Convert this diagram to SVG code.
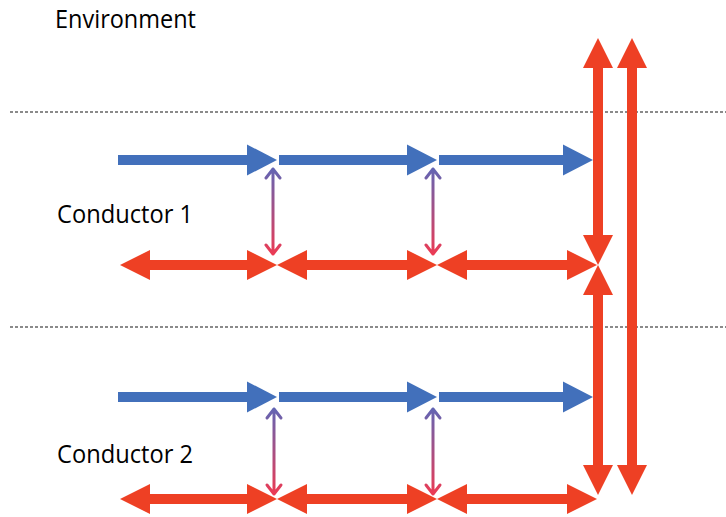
<svg xmlns="http://www.w3.org/2000/svg" width="726" height="517" viewBox="0 0 726 517">
  <style>
    .label { font-family: "Open Sans", "Noto Sans", "Liberation Sans", sans-serif; font-size: 26px; font-weight: 500; fill: #000; }
    .divider { stroke: #8a8a8a; stroke-width: 2; stroke-dasharray: 3 2; fill: none; }
    .blue { stroke: #4270bb; stroke-width: 10; fill: none; marker-end: url(#headBlue); }
    .red { stroke: #ee4024; stroke-width: 10; fill: none; marker-start: url(#headRed); marker-end: url(#headRed); }
    .link { fill: none; stroke: url(#linkGrad); stroke-width: 3; stroke-linecap: round; stroke-linejoin: round; }
  </style>
  <defs>
    <!-- Solid triangular heads; the shaft ends 20px short of the tip -->
    <marker id="headBlue" markerUnits="userSpaceOnUse" markerWidth="30" markerHeight="31" refX="10" refY="15.5" orient="auto" overflow="visible">
      <path d="M0,0 L30,15.5 L0,31 z" fill="#4270bb"/>
    </marker>
    <marker id="headRed" markerUnits="userSpaceOnUse" markerWidth="30" markerHeight="30" refX="10" refY="15" orient="auto-start-reverse" overflow="visible">
      <path d="M0,0 L30,15 L0,30 z" fill="#ee4024"/>
    </marker>
    <linearGradient id="linkGrad" gradientUnits="userSpaceOnUse" x1="0" y1="0" x2="0" y2="90">
      <stop offset="0" stop-color="#5f66b6"/>
      <stop offset="1" stop-color="#ee3a52"/>
    </linearGradient>
    <!-- Thin coupling arrow between the two waves of a conductor -->
    <g id="coupling">
      <path class="link" d="M0,3 L0,88 M-7,12 L0,3 L7,12 M-7,79 L0,88 L7,79"/>
    </g>
  </defs>

  <!-- Region boundaries -->
  <g id="dividers">
    <line class="divider" x1="10" y1="112" x2="726" y2="112"/>
    <line class="divider" x1="10" y1="327" x2="726" y2="327"/>
  </g>

  <!-- Labels -->
  <g id="environment">
    <text class="label" x="55" y="28" textLength="141" lengthAdjust="spacingAndGlyphs">Environment</text>
  </g>
  <g id="conductor1">
    <text class="label" x="57" y="223" textLength="136" lengthAdjust="spacingAndGlyphs">Conductor 1</text>
  </g>
  <g id="conductor2">
    <text class="label" x="57" y="463" textLength="136" lengthAdjust="spacingAndGlyphs">Conductor 2</text>
  </g>

  <g id="connectors">
    <!-- Conductor 1: forward wave -->
    <line class="blue" x1="118" y1="160" x2="257" y2="160"/>
    <line class="blue" x1="279" y1="160" x2="417" y2="160"/>
    <line class="blue" x1="439" y1="160" x2="573" y2="160"/>
    <!-- Conductor 1: two-way wave -->
    <line class="red" x1="140" y1="265" x2="257" y2="265"/>
    <line class="red" x1="297" y1="265" x2="417" y2="265"/>
    <line class="red" x1="457" y1="265" x2="577" y2="265"/>
    <!-- Conductor 2: forward wave -->
    <line class="blue" x1="118" y1="397" x2="257" y2="397"/>
    <line class="blue" x1="279" y1="397" x2="417" y2="397"/>
    <line class="blue" x1="439" y1="397" x2="573" y2="397"/>
    <!-- Conductor 2: two-way wave -->
    <line class="red" x1="140" y1="499" x2="257" y2="499"/>
    <line class="red" x1="297" y1="499" x2="417" y2="499"/>
    <line class="red" x1="457" y1="499" x2="577" y2="499"/>
    <!-- Couplings -->
    <use href="#coupling" transform="translate(273,166)"/>
    <use href="#coupling" transform="translate(433,166)"/>
    <use href="#coupling" transform="translate(274,406)"/>
    <use href="#coupling" transform="translate(433,406)"/>
    <!-- Vertical links to the environment -->
    <line class="red" x1="598" y1="58" x2="598" y2="245"/>
    <line class="red" x1="598" y1="285" x2="598" y2="475"/>
    <line class="red" x1="632" y1="58" x2="632" y2="475"/>
  </g>
</svg>
